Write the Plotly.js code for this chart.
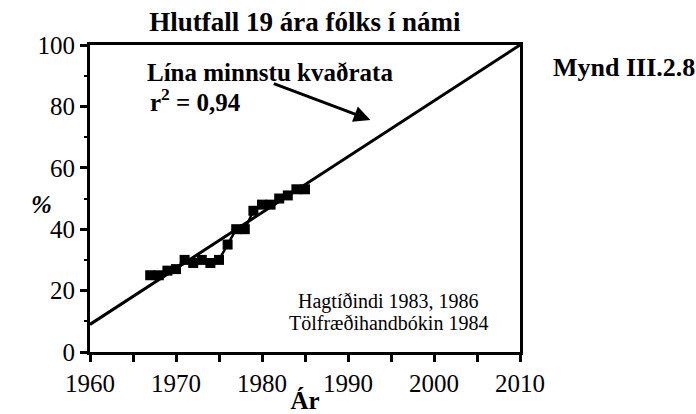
<!DOCTYPE html>
<html>
<head>
<meta charset="utf-8">
<script src="https://cdn.plot.ly/plotly-3.0.1.min.js"></script>
<style>
html,body{margin:0;padding:0;background:#fff;}
#chart{width:696px;height:414px;}
#chart svg text{font-family:'Liberation Serif' !important;}
</style>
</head>
<body>
<div id="chart"></div>
<script>
// Data
var years = [1967, 1968, 1969, 1970, 1971, 1972, 1973, 1974, 1975, 1976, 1977, 1978, 1979, 1980, 1981, 1982, 1983, 1984, 1985];
var share = [25, 25, 26.5, 27, 30, 29, 30, 29, 30, 35, 40, 40, 46, 48, 48, 50, 51, 53, 53];
var fitYears = [1960, 2010];
var fitValues = [9, 100];
var xTickVals = [1960, 1970, 1980, 1990, 2000, 2010];
var xTickText = ['1960', '1970', '1980', '1990', '2000', '2010'];
var yTickVals = [0, 20, 40, 60, 80, 100];
var yTickText = ['0', '20', '40', '60', '80', '100'];

var serif = 'Liberation Serif';

var traces = [
  {x: fitYears, y: fitValues, mode: 'lines', line: {color: '#000', width: 3}},
  {x: years, y: share, mode: 'lines+markers', line: {color: '#000', width: 2.5},
   marker: {symbol: 'square', size: 10, color: '#000'}}
];

var layout = {
  width: 696, height: 414,
  margin: {l: 90, r: 176, t: 45, b: 62},
  paper_bgcolor: '#fff', plot_bgcolor: '#fff',
  showlegend: false,
  font: {family: serif, color: '#000'},
  title: {text: '<b>Hlutfall 19 ára fólks í námi</b>', font: {size: 27, family: serif, color: '#000'},
          x: 0.438, xanchor: 'center', y: 0.947, yanchor: 'middle'},
  xaxis: {range: [1960, 2010], tickvals: xTickVals, ticktext: xTickText,
          showgrid: false, zeroline: false, showline: true, linewidth: 3, linecolor: '#000', mirror: true,
          ticks: 'outside', ticklen: 7, tickwidth: 3, tickcolor: '#000',
          minor: {dtick: 5, ticks: 'outside', ticklen: 7, tickwidth: 3, tickcolor: '#000', showgrid: false},
          tickfont: {size: 25, family: serif},
          title: {text: '<b>Ár</b>', font: {size: 25, family: serif}, standoff: 0}},
  yaxis: {range: [0, 100], tickvals: yTickVals, ticktext: yTickText,
          showgrid: false, zeroline: false, showline: true, linewidth: 3, linecolor: '#000', mirror: true,
          ticks: 'outside', ticklen: 7, tickwidth: 3, tickcolor: '#000',
          minor: {dtick: 10, ticks: 'outside', ticklen: 3, tickwidth: 2, tickcolor: '#000', showgrid: false},
          tickfont: {size: 25, family: serif},
          title: {text: ''}},
  annotations: [
    {xref: 'paper', yref: 'paper', x: -0.143, y: 0.48, text: '<b><i>%</i></b>', showarrow: false,
     font: {size: 25, family: serif}},
    {xref: 'paper', yref: 'paper', x: 1.243, y: 0.98, text: '<b>Mynd III.2.8</b>', showarrow: false,
     xanchor: 'center', font: {size: 26, family: serif}},
    {xref: 'x', yref: 'y', x: 1992.6, y: 75.6, ax: 1981.2, ay: 87.6, axref: 'x', ayref: 'y',
     text: '', showarrow: true, arrowhead: 2, arrowsize: 1.1, arrowwidth: 3, arrowcolor: '#000'},
    {xref: 'x', yref: 'y', x: 1966.4, y: 91.2, xanchor: 'left', text: '<b>Lína minnstu kvaðrata</b>',
     showarrow: false, font: {size: 25, family: serif}},
    {xref: 'x', yref: 'y', x: 1966.7, y: 82, xanchor: 'left', text: '<b>r<sup>2</sup> = 0,94</b>',
     showarrow: false, font: {size: 25, family: serif}},
    {xref: 'x', yref: 'y', x: 1994.7, y: 16.6, xanchor: 'center', text: 'Hagtíðindi 1983, 1986',
     showarrow: false, font: {size: 20, family: serif}},
    {xref: 'x', yref: 'y', x: 1994.7, y: 9.4, xanchor: 'center', text: 'Tölfræðihandbókin 1984',
     showarrow: false, font: {size: 20, family: serif}}
  ]
};

var config = {displayModeBar: false, staticPlot: true};
Plotly.newPlot('chart', traces, layout, config).then(function () {
  document.body.setAttribute('data-drawn', '1');
  if (document.fonts && document.fonts.ready) {
    return document.fonts.ready.then(function () {
      return Plotly.newPlot('chart', traces, layout, config);
    });
  }
}).catch(function () {});
</script>
</body>
</html>
